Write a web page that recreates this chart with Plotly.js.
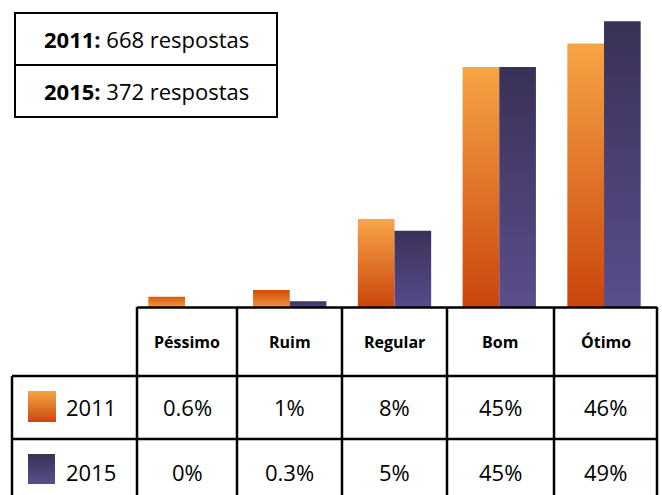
<!DOCTYPE html>
<html>
<head>
<meta charset="utf-8">
<script src="https://cdn.plot.ly/plotly-3.0.1.min.js"></script>
<style>
  html, body { margin: 0; padding: 0; background: #ffffff; }
  #chart { width: 662px; height: 495px; }
</style>
</head>
<body>
<div id="chart"></div>
<script>
// ---- data ----
const categories = ["Péssimo", "Ruim", "Regular", "Bom", "Ótimo"];
const seriesNames = ["2011", "2015"];
// bar heights as drawn in the picture (in % units, Bom = 45)
const barHeights2011 = [1.9, 3.2, 16.5, 45, 49.4];
const barHeights2015 = [0, 1.1, 14.3, 45, 53.6];
// table labels
const table2011 = ["0.6%", "1%", "8%", "45%", "46%"];
const table2015 = ["0%", "0.3%", "5%", "45%", "49%"];
const respostas = [668, 372];

// ---- layout helpers (pixel -> paper) ----
const W = 662, H = 495;
const px = x => x / W;
const py = y => 1 - y / H;

const FONT = "'Open Sans', 'DejaVu Sans', sans-serif";
const colCenters = [187, 289.5, 394.5, 500.5, 605.5];

const traces = [
  { type: "bar", x: categories, y: barHeights2011, name: seriesNames[0],
    marker: { color: "#e8842e", line: { width: 0 } }, hoverinfo: "skip" },
  { type: "bar", x: categories, y: barHeights2015, name: seriesNames[1],
    marker: { color: "#483e72", line: { width: 0 } }, hoverinfo: "skip" }
];

const line = (x0, y0, x1, y1, w) => ({
  type: "line", xref: "paper", yref: "paper",
  x0: px(x0), y0: py(y0), x1: px(x1), y1: py(y1),
  line: { color: "#000000", width: w || 2.5 }
});

const shapes = [
  // table
  line(137, 307.5, 657, 307.5),
  line(12, 376, 657, 376),
  line(12, 439, 657, 439),
  line(12, 376, 12, 500),
  line(137, 307, 137, 500),
  line(237, 307, 237, 500),
  line(342, 307, 342, 500),
  line(447, 307, 447, 500),
  line(554, 307, 554, 500),
  line(657, 307, 657, 500),
  // legend box
  { type: "rect", xref: "paper", yref: "paper",
    x0: px(15), y0: py(117), x1: px(277), y1: py(13),
    line: { color: "#000000", width: 2 }, fillcolor: "rgba(0,0,0,0)" },
  line(15, 65, 277, 65, 2)
];

const annotations = [];
categories.forEach((c, i) => {
  annotations.push({ xref: "paper", yref: "paper", x: px(colCenters[i]), y: py(342),
    text: "<b>" + c + "</b>", showarrow: false, xanchor: "center", yanchor: "middle",
    font: { family: FONT, size: 16, color: "#000000" } });
  annotations.push({ xref: "paper", yref: "paper", x: px(colCenters[i]), y: py(407),
    text: table2011[i], showarrow: false, xanchor: "center", yanchor: "middle",
    font: { family: FONT, size: 22, color: "#000000" } });
  annotations.push({ xref: "paper", yref: "paper", x: px(colCenters[i]), y: py(472),
    text: table2015[i], showarrow: false, xanchor: "center", yanchor: "middle",
    font: { family: FONT, size: 22, color: "#000000" } });
});
annotations.push({ xref: "paper", yref: "paper", x: px(64), y: py(407),
  text: seriesNames[0], showarrow: false, xanchor: "left", yanchor: "middle",
  font: { family: FONT, size: 22, color: "#000000" } });
annotations.push({ xref: "paper", yref: "paper", x: px(64), y: py(472),
  text: seriesNames[1], showarrow: false, xanchor: "left", yanchor: "middle",
  font: { family: FONT, size: 22, color: "#000000" } });
annotations.push({ xref: "paper", yref: "paper", x: px(146), y: py(39),
  text: "<b>" + seriesNames[0] + ":</b> " + respostas[0] + " respostas", showarrow: false,
  xanchor: "center", yanchor: "middle", font: { family: FONT, size: 22, color: "#000000" } });
annotations.push({ xref: "paper", yref: "paper", x: px(146), y: py(91),
  text: "<b>" + seriesNames[1] + ":</b> " + respostas[1] + " respostas", showarrow: false,
  xanchor: "center", yanchor: "middle", font: { family: FONT, size: 22, color: "#000000" } });

// legend swatches as gradient images
const gradSvg = (top, bottom) => "data:image/svg+xml;utf8," + encodeURIComponent(
  '<svg xmlns="http://www.w3.org/2000/svg" width="10" height="10" preserveAspectRatio="none">' +
  '<defs><linearGradient id="g" x1="0" y1="0" x2="0" y2="1">' +
  '<stop offset="0" stop-color="' + top + '"/><stop offset="1" stop-color="' + bottom + '"/>' +
  '</linearGradient></defs><rect width="10" height="10" fill="url(#g)"/></svg>');

const images = [
  { source: gradSvg("#f6a444", "#cc470d"), xref: "paper", yref: "paper",
    x: px(28), y: py(391), sizex: px(28), sizey: 31 / H, sizing: "stretch",
    xanchor: "left", yanchor: "top", layer: "above" },
  { source: gradSvg("#3a3157", "#5a4e8c"), xref: "paper", yref: "paper",
    x: px(28), y: py(454), sizex: px(27), sizey: 30 / H, sizing: "stretch",
    xanchor: "left", yanchor: "top", layer: "above" }
];

const layout = {
  width: W, height: H,
  margin: { l: 0, r: 0, t: 0, b: 0, pad: 0 },
  paper_bgcolor: "#ffffff", plot_bgcolor: "#ffffff",
  showlegend: false,
  barmode: "group", bargap: 0.3, bargroupgap: 0,
  xaxis: { type: "category", domain: [132.6 / W, 656.4 / W], range: [-0.5, 4.5],
           visible: false, fixedrange: true },
  yaxis: { domain: [188 / H, 1], range: [0, 307 / 5.3333], visible: false, fixedrange: true },
  shapes: shapes, annotations: annotations, images: images
};

// per-bar gradients [top, bottom]
const barGrad = [
  [["#d85a14", "#f39a3c"], ["#d04a0c", "#f09238"], ["#f7a547", "#cb450c"], ["#f6a444", "#cb450c"], ["#f6a444", "#cb450c"]],
  [["#3a3157", "#5a4e8c"], ["#3e3462", "#4e4480"], ["#3b3159", "#574b8a"], ["#3a3157", "#5a4e8c"], ["#3a3157", "#5a4e8c"]]
];

Plotly.newPlot("chart", traces, layout, { staticPlot: true, displayModeBar: false }).then(gd => {
  const svg = gd.querySelector(".main-svg");
  const NS = "http://www.w3.org/2000/svg";
  const defs = document.createElementNS(NS, "defs");
  svg.insertBefore(defs, svg.firstChild);
  const traceGroups = gd.querySelectorAll(".barlayer .trace");
  traceGroups.forEach((tg, ti) => {
    tg.querySelectorAll(".point path").forEach((p, pi) => {
      const g = barGrad[ti] && barGrad[ti][pi];
      if (!g) return;
      const id = "bg_" + ti + "_" + pi;
      const lg = document.createElementNS(NS, "linearGradient");
      lg.setAttribute("id", id);
      lg.setAttribute("x1", "0"); lg.setAttribute("y1", "0");
      lg.setAttribute("x2", "0"); lg.setAttribute("y2", "1");
      [[0, g[0]], [1, g[1]]].forEach(([o, c]) => {
        const s = document.createElementNS(NS, "stop");
        s.setAttribute("offset", String(o));
        s.setAttribute("stop-color", c);
        lg.appendChild(s);
      });
      defs.appendChild(lg);
      p.style.fill = "url(#" + id + ")";
    });
  });
});
</script>
</body>
</html>
